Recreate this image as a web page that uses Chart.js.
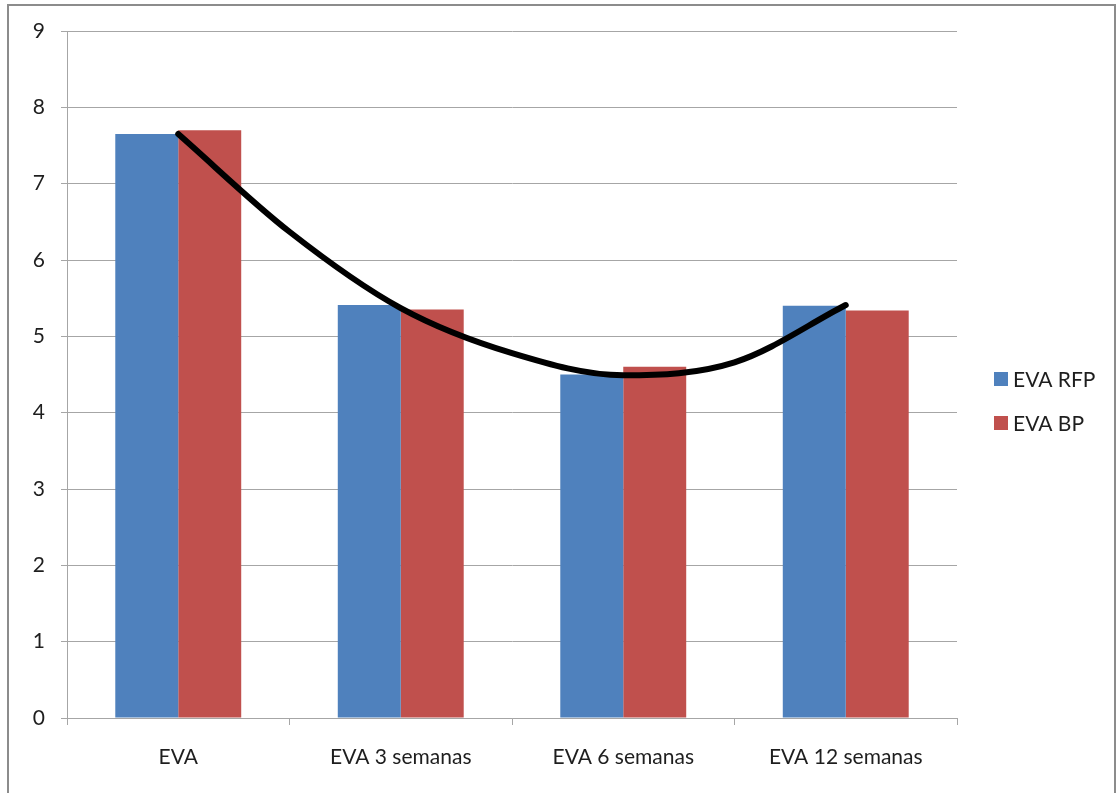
<!DOCTYPE html>
<html>
<head>
<meta charset="utf-8">
<title>EVA</title>
<script src="https://cdn.jsdelivr.net/npm/chart.js@4/dist/chart.umd.min.js"></script>
<style>
  html, body { margin: 0; padding: 0; background: #ffffff; }
  #wrap { position: relative; width: 1118px; height: 793px; }
  #wrap canvas { position: absolute; left: 0; top: 0; }
  #trend { pointer-events: none; }
</style>
</head>
<body>
<div id="wrap">
  <canvas id="chart" width="1118" height="793"></canvas>
  <canvas id="trend" width="1118" height="793"></canvas>
</div>
<script>
// Categories and series
const categories = ['EVA', 'EVA 3 semanas', 'EVA 6 semanas', 'EVA 12 semanas'];
const seriesNames = ['EVA RFP', 'EVA BP'];
const evaRFP = [7.65, 5.41, 4.50, 5.40];
const evaBP = [7.70, 5.35, 4.60, 5.34];

// Hand-drawn trend curve, positions along the category axis (0 = first category)
const trendX = [0, 0.5, 1, 1.5, 2, 2.5, 3];
const trendY = [7.65, 6.37, 5.37, 4.78, 4.49, 4.66, 5.41];

// Value axis ticks
const yTicks = [0, 1, 2, 3, 4, 5, 6, 7, 8, 9];

const BLUE = '#4F81BD';
const RED = '#C0504D';
const GRID = '#a6a6a6';
const TEXT = '#1e1e1e';
const FONT = 'Lato, "DejaVu Sans", sans-serif';
const FONT_SIZE = 21;

// Shared plot-area geometry for both canvases
const LAYOUT = { padding: { left: 0, top: 31, right: 161, bottom: 0 } };
const Y_AXIS_WIDTH = 67;
const X_AXIS_HEIGHT = 75;

// Outer frame of the chart
const framePlugin = {
  id: 'frame',
  beforeDraw(chart) {
    const ctx = chart.ctx;
    ctx.save();
    ctx.strokeStyle = '#8c8c8c';
    ctx.lineWidth = 2;
    ctx.beginPath();
    ctx.moveTo(8, 800);
    ctx.lineTo(8, 5);
    ctx.lineTo(1115, 5);
    ctx.lineTo(1115, 800);
    ctx.stroke();
    ctx.restore();
  }
};

// Legend on the right for the two bar series
const sideLegend = {
  id: 'sideLegend',
  afterDraw(chart) {
    const ctx = chart.ctx;
    const area = chart.chartArea;
    const x0 = area.right + 37;
    const y0 = 379;
    const rowGap = 44;
    ctx.save();
    ctx.font = FONT_SIZE + 'px ' + FONT;
    ctx.textBaseline = 'middle';
    ctx.textAlign = 'left';
    chart.data.datasets.forEach((ds, i) => {
      const cy = y0 + i * rowGap;
      ctx.fillStyle = ds.backgroundColor;
      ctx.fillRect(x0, cy - 7, 14, 14);
      ctx.fillStyle = TEXT;
      ctx.fillText(ds.label, x0 + 19, cy + 1);
    });
    ctx.restore();
  }
};

function drawBars() {
  return new Chart(document.getElementById('chart'), {
    type: 'bar',
    data: {
      labels: categories,
      datasets: [
        {
          label: seriesNames[0],
          data: evaRFP,
          backgroundColor: BLUE,
          borderWidth: 0,
          categoryPercentage: 0.566,
          barPercentage: 1.0
        },
        {
          label: seriesNames[1],
          data: evaBP,
          backgroundColor: RED,
          borderWidth: 0,
          categoryPercentage: 0.566,
          barPercentage: 1.0
        }
      ]
    },
    options: {
      responsive: false,
      animation: false,
      layout: LAYOUT,
      plugins: {
        legend: { display: false },
        tooltip: { enabled: false }
      },
      scales: {
        x: {
          type: 'category',
          offset: true,
          grid: {
            offset: true,
            drawOnChartArea: false,
            drawTicks: true,
            tickLength: 7,
            color: GRID
          },
          border: { display: true, color: GRID },
          ticks: { padding: 20, color: TEXT, font: { size: FONT_SIZE }, maxRotation: 0 },
          afterFit(scale) { scale.height = X_AXIS_HEIGHT; }
        },
        y: {
          min: 0,
          max: 9,
          afterBuildTicks(scale) { scale.ticks = yTicks.map(v => ({ value: v })); },
          grid: { color: GRID, tickLength: 6 },
          border: { display: true, color: GRID },
          ticks: { padding: 16, color: TEXT, font: { size: FONT_SIZE } },
          afterFit(scale) { scale.width = Y_AXIS_WIDTH; }
        }
      }
    },
    plugins: [framePlugin, sideLegend]
  });
}

// Trend curve layered above the bars, on the same plot area
function drawTrend() {
  const hiddenAxis = {
    display: true,
    grid: { display: false, drawTicks: false },
    border: { display: false },
    ticks: { display: false }
  };
  return new Chart(document.getElementById('trend'), {
    type: 'line',
    data: {
      datasets: [{
        label: 'tendencia',
        data: trendX.map((x, i) => ({ x: x, y: trendY[i] })),
        borderColor: '#000000',
        borderWidth: 6,
        borderCapStyle: 'round',
        cubicInterpolationMode: 'monotone',
        pointRadius: 0,
        fill: false
      }]
    },
    options: {
      responsive: false,
      animation: false,
      layout: LAYOUT,
      plugins: {
        legend: { display: false },
        tooltip: { enabled: false }
      },
      scales: {
        x: Object.assign({}, hiddenAxis, {
          type: 'linear',
          min: -0.5,
          max: 3.5,
          afterFit(scale) { scale.height = X_AXIS_HEIGHT; }
        }),
        y: Object.assign({}, hiddenAxis, {
          type: 'linear',
          min: 0,
          max: 9,
          afterFit(scale) { scale.width = Y_AXIS_WIDTH; }
        })
      }
    }
  });
}

function draw() {
  Chart.defaults.font.family = FONT;
  Chart.defaults.font.size = FONT_SIZE;
  Chart.defaults.color = TEXT;
  drawBars();
  drawTrend();
}

if (document.fonts && document.fonts.load) {
  document.fonts.load(FONT_SIZE + 'px Lato').then(draw, draw);
} else {
  draw();
}
</script>
</body>
</html>
